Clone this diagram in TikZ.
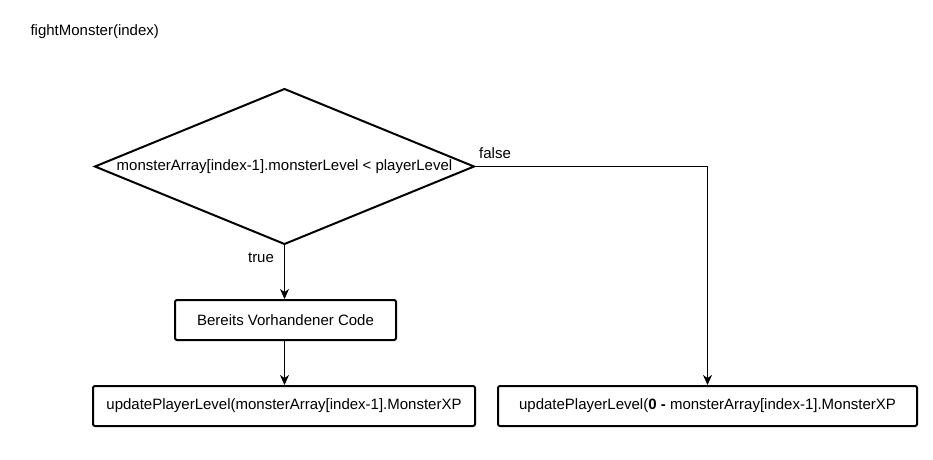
\documentclass[tikz,border=0pt]{standalone}
\usepackage{fontspec}
\setmainfont{Liberation Sans}
\usetikzlibrary{shapes.geometric,arrows.meta}

\begin{document}
\begin{tikzpicture}[x=1pt, y=-1pt,
    font=\fontsize{15}{17}\selectfont,
    box/.style={draw, line width=2pt, rounded corners=2pt, minimum height=40pt, inner sep=0pt},
    decision/.style={draw, diamond, line width=2pt, aspect=2.45, minimum width=379pt, minimum height=155pt, inner sep=0pt, outer sep=0pt},
    flow/.style={-{Stealth[length=10pt, width=9pt, inset=3pt]}, line width=1pt}]
    \useasboundingbox (0, 0) rectangle (933, 459);

    \node [anchor=west] (title) at (27, 32) {fightMonster(index)};

    \node [decision] (check) at (284.5, 166.5) {monsterArray[index-1].monsterLevel < playerLevel};
    \node [box, minimum width=221pt] (code) at (285.5, 320) {Bereits Vorhandener Code};
    \node [box, minimum width=382pt] (updTrue) at (284, 406) {updatePlayerLevel(monsterArray[index-1].MonsterXP};
    \node [box, minimum width=419pt] (updFalse) at (707.5, 406) {updatePlayerLevel(\textbf{0 -} monsterArray[index-1].MonsterXP};

    \draw [flow] (check.south) -- (check.south |- code.north);
    \draw [flow] (check.south |- code.south) -- (check.south |- updTrue.north);
    \draw [flow] (check.east) -| (updFalse.north);

    \node (lblTrue) at (261, 258) {true};
    \node (lblFalse) at (495, 153) {false};
  \end{tikzpicture}
\end{document}
